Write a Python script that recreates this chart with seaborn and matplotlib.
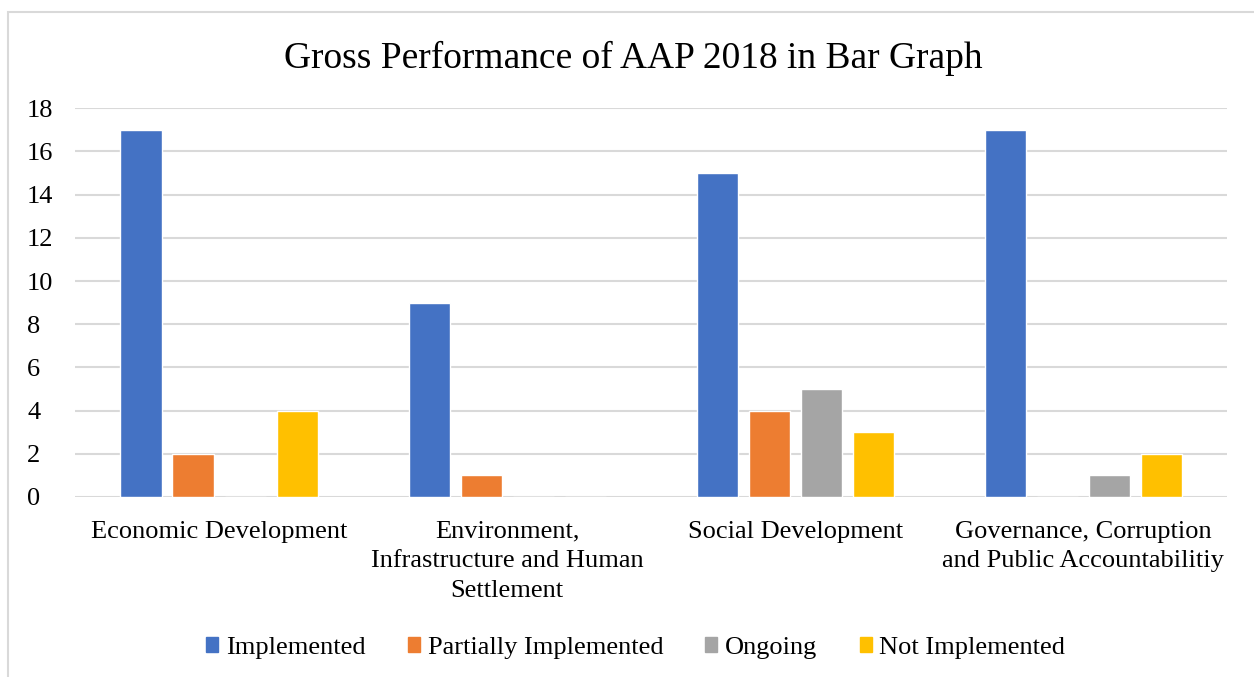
import numpy as np
import pandas as pd
import matplotlib
matplotlib.use("Agg")
import matplotlib.pyplot as plt
import seaborn as sns
from matplotlib.patches import Rectangle

categories = ["Economic Development",
              "Environment,\nInfrastructure and Human\nSettlement",
              "Social Development",
              "Governance, Corruption\nand Public Accountabilitiy"]
series = ["Implemented", "Partially Implemented", "Ongoing", "Not Implemented"]
implemented = [17, 9, 15, 17]
partially = [2, 1, 4, 0]
ongoing = [0, 0, 5, 1]
not_implemented = [4, 0, 3, 2]
colors = ["#4472C4", "#ED7D31", "#A5A5A5", "#FFC000"]

df = pd.DataFrame({
    "category": categories * 4,
    "status": [s for s in series for _ in categories],
    "count": implemented + partially + ongoing + not_implemented,
})

sns.set_style("white")
plt.rcParams["font.family"] = ["Liberation Serif", "DejaVu Serif"]
plt.rcParams["text.color"] = "black"
plt.rcParams["xtick.color"] = "black"
plt.rcParams["ytick.color"] = "black"

fig = plt.figure(figsize=(12.54, 6.77), dpi=100)
ax = fig.add_axes([0.0598, 0.266, 0.919, 0.574])

sns.barplot(data=df, x="category", y="count", hue="status",
            hue_order=series, palette=colors, width=0.722, gap=0.21,
            saturation=1, legend=False, ax=ax)

ax.set_ylim(0, 18)
ax.set_yticks(range(0, 19, 2))
ax.set_xlim(-0.5, 3.5)
ax.yaxis.grid(True, color="#D9D9D9", linewidth=1.5)
ax.set_axisbelow(True)
for s in ax.spines.values():
    s.set_visible(False)
ax.tick_params(axis="both", length=0, labelsize=19)
ax.tick_params(axis="x", pad=17)
ax.tick_params(axis="y", pad=34.5)
ax.set_xlabel("")
ax.set_ylabel("")
for lab in ax.get_yticklabels():
    lab.set_horizontalalignment("left")
for lab in ax.get_xticklabels():
    lab.set_linespacing(1.45)

fig.suptitle("Gross Performance of AAP 2018 in Bar Graph", fontsize=27,
             x=0.505, y=0.94)

handles = [Rectangle((0, 0), 1, 1, color=c) for c in colors]
fig.legend(handles, series, loc="center", bbox_to_anchor=(0.507, 0.043), ncol=4,
           frameon=False, fontsize=19, handlelength=0.45, handleheight=0.45,
           handletextpad=0.3, columnspacing=1.6)

fig.patches.append(Rectangle((8 / 1254, -0.1), 1.2, 1.1 - 12 / 677,
                             transform=fig.transFigure, fill=False,
                             edgecolor="#D9D9D9", linewidth=1.5))

fig.savefig("out.png", dpi=100)
